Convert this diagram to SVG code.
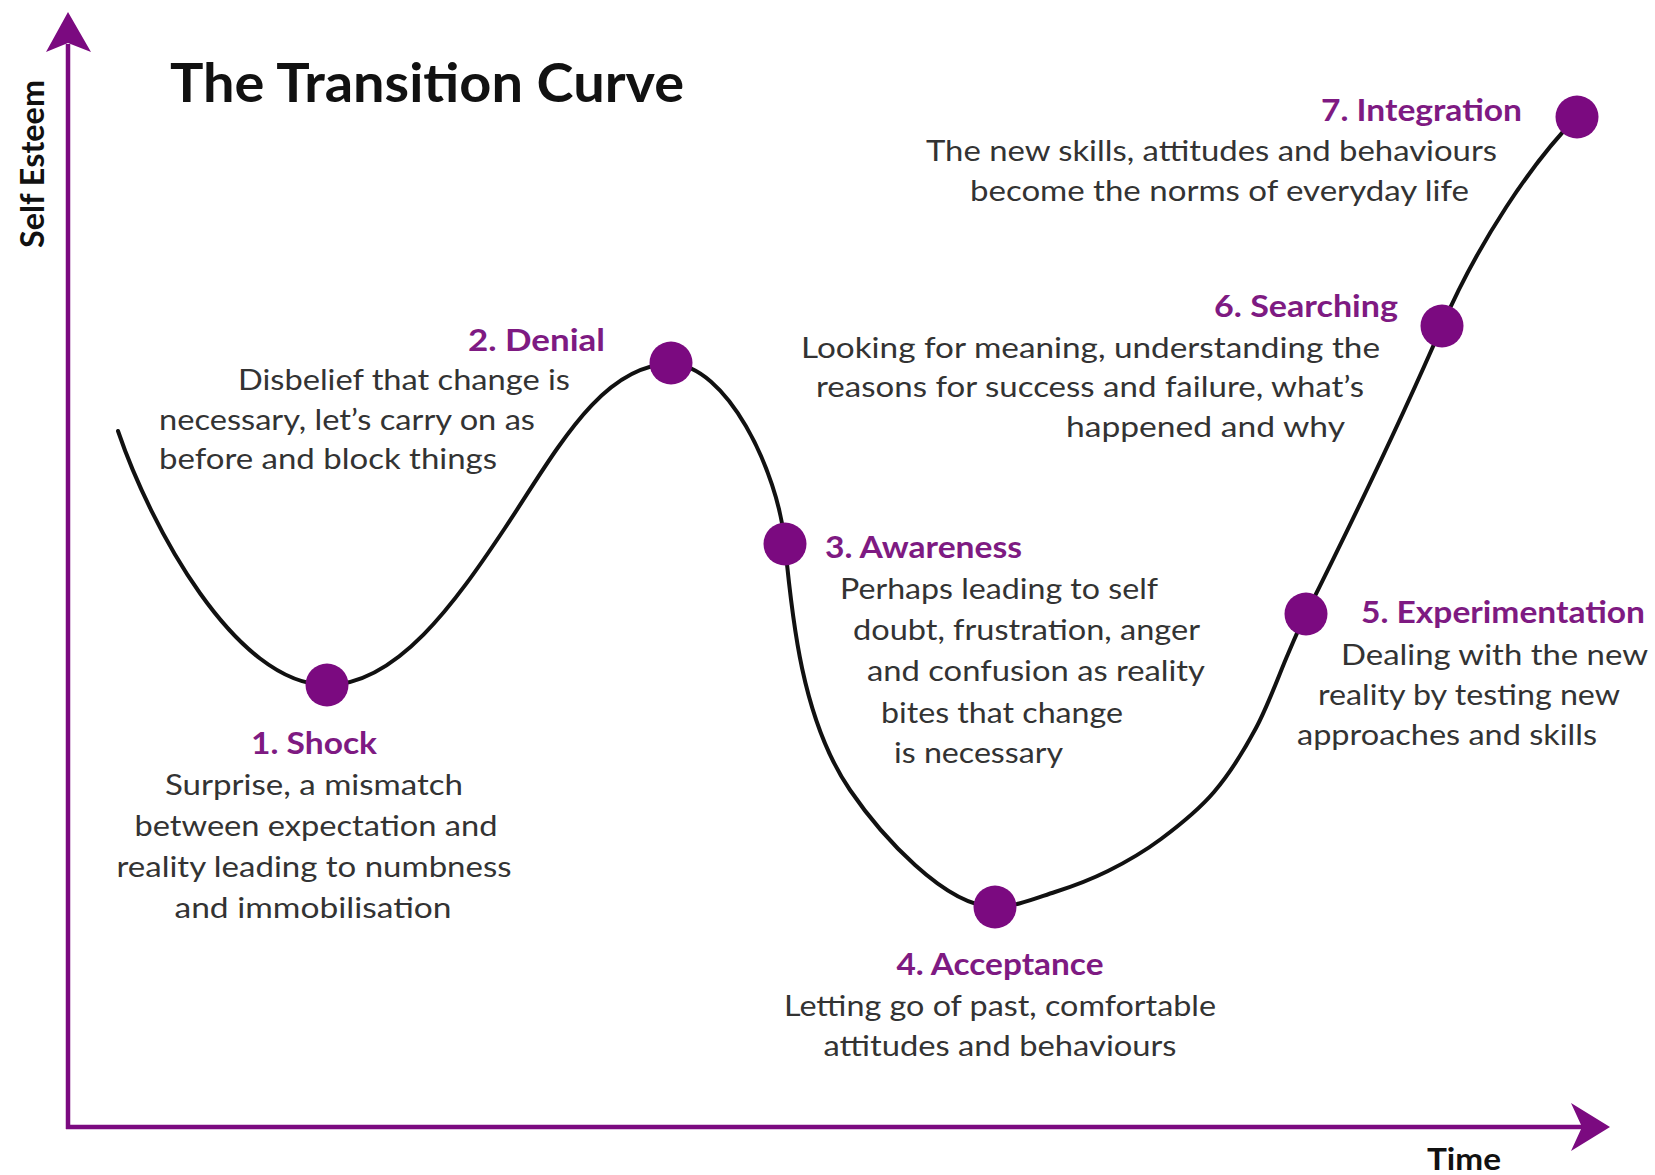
<svg xmlns="http://www.w3.org/2000/svg" width="1655" height="1175" viewBox="0 0 1655 1175">
<style>
.bg{fill:#ffffff}
.axis{stroke:#7b0a80;stroke-width:4.5;fill:none}
.arrow{fill:#7b0a80}
.curve{stroke:#111111;stroke-width:4;fill:none;stroke-linecap:round;stroke-linejoin:round}
.dot{fill:#7b0a80}
.t{font-family:Lato,"Liberation Sans",sans-serif;font-weight:700;fill:#111111}
.h{font-family:Lato,"Liberation Sans",sans-serif;font-weight:700;font-size:30px;fill:#7e1a82}
.b{font-family:Lato,"Liberation Sans",sans-serif;font-weight:400;font-size:29px;fill:#333333}
.c{text-anchor:middle}
</style>
<rect class="bg" x="0" y="0" width="1655" height="1175"/>

<g id="axes">
  <line class="axis" x1="68" y1="44" x2="68" y2="1129"/>
  <line class="axis" x1="66" y1="1127" x2="1584" y2="1127"/>
  <path class="arrow" d="M68,12 L91,52 L68,43 L46,52 Z"/>
  <path class="arrow" d="M1610,1127 L1571,1151 L1582,1127 L1571,1103 Z"/>
  <text class="t" font-size="32" text-anchor="middle" transform="translate(44,164) rotate(-90)" textLength="168" lengthAdjust="spacingAndGlyphs">Self Esteem</text>
  <text class="t" font-size="30" x="1427" y="1170" textLength="74" lengthAdjust="spacingAndGlyphs">Time</text>
</g>

<text id="title" class="t" font-size="54" x="170" y="102" textLength="514" lengthAdjust="spacingAndGlyphs">The Transition Curve</text>

<g id="connectors">
  <path class="curve" d="M118,431 C150,525 235,685 327,685 C397,685 455,603 505,528 C555,453 601,364 671,364 C726,364 778,470 785,544 C792,618 802,720 850,790 C880,834 945,907 995,907 C1015,907 1036.2,898 1055,892 C1073.8,886 1090.3,879.8 1108,871 C1125.7,862.2 1143.3,852.2 1161,839 C1178.7,825.8 1198.2,810.5 1214,792 C1229.8,773.5 1243.7,751 1256,728 C1268.3,705 1279.7,673 1288,654 C1296.3,635 1297,632 1306,614 C1348,530 1402,418 1442,326 C1478,243 1532,162 1577,117"/>
</g>

<g id="stage1-shock">
  <circle class="dot" cx="327" cy="685" r="21.5"/>
  <text class="h c" x="314" y="754" textLength="126" lengthAdjust="spacingAndGlyphs">1. Shock</text>
  <text class="b c" x="314" y="795" textLength="298" lengthAdjust="spacingAndGlyphs">Surprise, a mismatch</text>
  <text class="b c" x="316" y="836" textLength="363" lengthAdjust="spacingAndGlyphs">between expectation and</text>
  <text class="b c" x="314" y="877" textLength="395" lengthAdjust="spacingAndGlyphs">reality leading to numbness</text>
  <text class="b c" x="313" y="918" textLength="277" lengthAdjust="spacingAndGlyphs">and immobilisation</text>
</g>

<g id="stage2-denial">
  <circle class="dot" cx="671" cy="363" r="21.5"/>
  <text class="h" x="468" y="351" textLength="137" lengthAdjust="spacingAndGlyphs">2. Denial</text>
  <text class="b" x="238" y="390" textLength="332" lengthAdjust="spacingAndGlyphs">Disbelief that change is</text>
  <text class="b" x="159" y="430" textLength="376" lengthAdjust="spacingAndGlyphs">necessary, let’s carry on as</text>
  <text class="b" x="159" y="469" textLength="338" lengthAdjust="spacingAndGlyphs">before and block things</text>
</g>

<g id="stage3-awareness">
  <circle class="dot" cx="785" cy="544" r="21.5"/>
  <text class="h" x="825" y="558" textLength="197" lengthAdjust="spacingAndGlyphs">3. Awareness</text>
  <text class="b" x="840" y="599" textLength="318" lengthAdjust="spacingAndGlyphs">Perhaps leading to self</text>
  <text class="b" x="853" y="640" textLength="347" lengthAdjust="spacingAndGlyphs">doubt, frustration, anger</text>
  <text class="b" x="867" y="681" textLength="338" lengthAdjust="spacingAndGlyphs">and confusion as reality</text>
  <text class="b" x="881" y="723" textLength="242" lengthAdjust="spacingAndGlyphs">bites that change</text>
  <text class="b" x="894" y="763" textLength="169" lengthAdjust="spacingAndGlyphs">is necessary</text>
</g>

<g id="stage4-acceptance">
  <circle class="dot" cx="995" cy="907" r="21.5"/>
  <text class="h c" x="1000" y="975" textLength="207" lengthAdjust="spacingAndGlyphs">4. Acceptance</text>
  <text class="b c" x="1000" y="1016" textLength="432" lengthAdjust="spacingAndGlyphs">Letting go of past, comfortable</text>
  <text class="b c" x="1000" y="1056" textLength="353" lengthAdjust="spacingAndGlyphs">attitudes and behaviours</text>
</g>

<g id="stage5-experimentation">
  <circle class="dot" cx="1306" cy="614" r="21.5"/>
  <text class="h" x="1361" y="623" textLength="284" lengthAdjust="spacingAndGlyphs">5. Experimentation</text>
  <text class="b" x="1341" y="665" textLength="307" lengthAdjust="spacingAndGlyphs">Dealing with the new</text>
  <text class="b" x="1318" y="705" textLength="302" lengthAdjust="spacingAndGlyphs">reality by testing new</text>
  <text class="b" x="1297" y="745" textLength="300" lengthAdjust="spacingAndGlyphs">approaches and skills</text>
</g>

<g id="stage6-searching">
  <circle class="dot" cx="1442" cy="326" r="21.5"/>
  <text class="h" x="1214" y="317" textLength="184" lengthAdjust="spacingAndGlyphs">6. Searching</text>
  <text class="b" x="801" y="358" textLength="579" lengthAdjust="spacingAndGlyphs">Looking for meaning, understanding the</text>
  <text class="b" x="816" y="397" textLength="548" lengthAdjust="spacingAndGlyphs">reasons for success and failure, what’s</text>
  <text class="b" x="1066" y="437" textLength="279" lengthAdjust="spacingAndGlyphs">happened and why</text>
</g>

<g id="stage7-integration">
  <circle class="dot" cx="1577" cy="117" r="21.5"/>
  <text class="h" x="1321" y="121" textLength="201" lengthAdjust="spacingAndGlyphs">7. Integration</text>
  <text class="b" x="926" y="161" textLength="571" lengthAdjust="spacingAndGlyphs">The new skills, attitudes and behaviours</text>
  <text class="b" x="970" y="201" textLength="499" lengthAdjust="spacingAndGlyphs">become the norms of everyday life</text>
</g>
</svg>
